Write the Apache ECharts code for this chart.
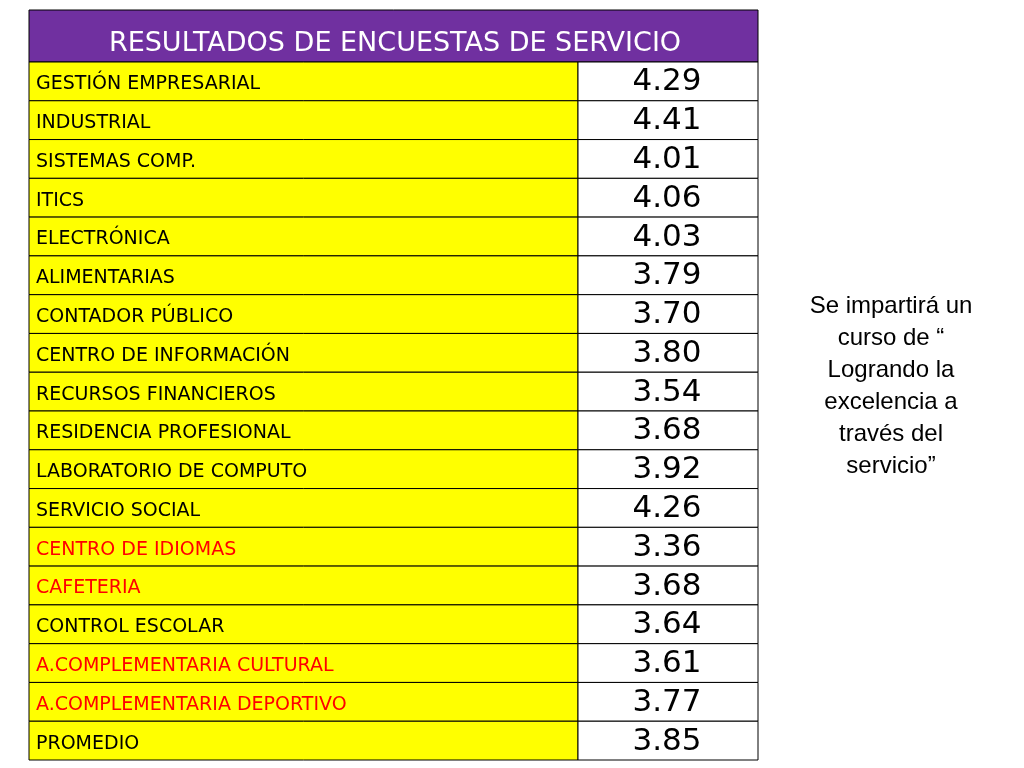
<!DOCTYPE html>
<html><head><meta charset="utf-8">
<script src="https://cdn.jsdelivr.net/npm/echarts@6/dist/echarts.min.js"></script>
<style>html,body{margin:0;background:#fff}#c{width:1024px;height:768px}</style>
</head><body><div id="c"></div>
<script>
var areas = ['GESTIÓN EMPRESARIAL','INDUSTRIAL','SISTEMAS COMP.','ITICS','ELECTRÓNICA','ALIMENTARIAS','CONTADOR PÚBLICO','CENTRO DE INFORMACIÓN','RECURSOS FINANCIEROS','RESIDENCIA PROFESIONAL','LABORATORIO DE COMPUTO','SERVICIO SOCIAL','CENTRO DE IDIOMAS','CAFETERIA','CONTROL ESCOLAR','A.COMPLEMENTARIA CULTURAL','A.COMPLEMENTARIA DEPORTIVO','PROMEDIO'];
var scores = [4.29,4.41,4.01,4.06,4.03,3.79,3.70,3.80,3.54,3.68,3.92,4.26,3.36,3.68,3.64,3.61,3.77,3.85];
var flagged = ['CENTRO DE IDIOMAS','CAFETERIA','A.COMPLEMENTARIA CULTURAL','A.COMPLEMENTARIA DEPORTIVO'];

var chart = echarts.init(document.getElementById('c'));
var data = areas.map(function (a, i) { return [0, i, scores[i]]; });

chart.setOption({
  animation: false,
  grid: { left: 29, right: 266, top: 62, bottom: 8 },
  xAxis: { type: 'value', min: 0, max: 1, show: false },
  yAxis: { type: 'category', data: areas, inverse: true, show: false },
  graphic: [
    { type: 'rect', shape: { x: 29, y: 10, width: 729, height: 52 },
      style: { fill: '#7030A0', stroke: '#000', lineWidth: 1 } },
    { type: 'text', x: 395, y: 44, style: { text: 'RESULTADOS DE ENCUESTAS DE SERVICIO',
      fill: '#fff', font: '27px "DejaVu Sans"', textAlign: 'center', textVerticalAlign: 'middle' } },
    { type: 'text', x: 891, y: 386, style: {
      text: 'Se impartirá un\ncurso de “\nLogrando la\nexcelencia a\ntravés del\nservicio”',
      fill: '#000', font: '24px "Liberation Sans"', lineHeight: 32, textAlign: 'center', textVerticalAlign: 'middle' } }
  ],
  series: [{
    type: 'custom',
    data: data,
    renderItem: function (params, api) {
      var i = api.value(1);
      var p0 = api.coord([0, i]);
      var p1 = api.coord([1, i]);
      var h = api.size([0, 1])[1];
      var y = p0[1] - h / 2;
      var split = p0[0] + (p1[0] - p0[0]) * 549 / 729;
      var name = areas[i];
      return { type: 'group', children: [
        { type: 'rect', shape: { x: p0[0], y: y, width: split - p0[0], height: h },
          style: { fill: '#FFFF00', stroke: '#000', lineWidth: 1 } },
        { type: 'rect', shape: { x: split, y: y, width: p1[0] - split, height: h },
          style: { fill: '#fff', stroke: '#000', lineWidth: 1 } },
        { type: 'text', x: p0[0] + 7, y: p0[1] + 3, style: { text: name,
          fill: flagged.indexOf(name) >= 0 ? '#FF0000' : '#000',
          font: '19px "DejaVu Sans"', textVerticalAlign: 'middle' } },
        { type: 'text', x: split + 89, y: p0[1] + 1, style: { text: api.value(2).toFixed(2),
          fill: '#000', font: '31px "DejaVu Sans"', textAlign: 'center', textVerticalAlign: 'middle' } }
      ] };
    }
  }]
});
</script></body></html>
